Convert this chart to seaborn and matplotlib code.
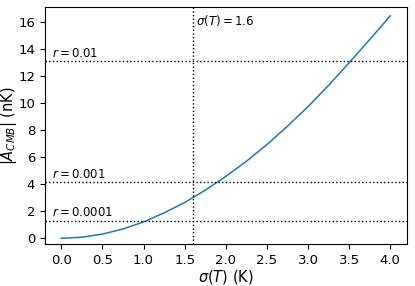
import numpy as np
import pandas as pd
import matplotlib
matplotlib.use("Agg")
import matplotlib.pyplot as plt
import seaborn as sns

# values
sigma_T = [0.0, 0.25, 0.5, 0.75, 1.0, 1.25, 1.5, 1.75, 2.0, 2.25, 2.5,
           2.75, 3.0, 3.25, 3.5, 3.75, 4.0]
A_cmb = [0.0, 0.08, 0.31, 0.69, 1.21, 1.88, 2.65, 3.56, 4.58, 5.7, 6.94,
         8.3, 9.75, 11.33, 13.0, 14.72, 16.48]
r_labels = ["$r = 0.01$", "$r = 0.001$", "$r = 0.0001$"]
r_levels = [13.16, 4.16, 1.316]
sigma_mark = 1.6

data = pd.DataFrame({"sigma": sigma_T, "A": A_cmb})

fig = plt.figure(figsize=(4.15, 2.86), dpi=100)
ax = fig.add_axes([0.108, 0.147, 0.872, 0.827])

sns.lineplot(data=data, x="sigma", y="A", ax=ax, color="#1f77b4", linewidth=1.1)

for lab, lev in zip(r_labels, r_levels):
    ax.axhline(lev, color="black", linestyle=":", linewidth=1.0)
    ax.text(-0.11, lev + 0.08, lab, fontsize=8.5, va="bottom", ha="left")

ax.axvline(sigma_mark, color="black", linestyle=":", linewidth=1.0)
ax.text(sigma_mark + 0.04, 15.55, r"$\sigma(T) = 1.6$", fontsize=8.5, va="bottom")

ax.set_xlim(-0.2, 4.2)
ax.set_ylim(-0.42, 17.1)
ax.set_xticks(np.arange(0, 4.01, 0.5))
ax.set_yticks(np.arange(0, 17, 2))
ax.tick_params(labelsize=9.5)
ax.set_xlabel(r"$\sigma(T)$ (K)", fontsize=10.5)
ax.set_ylabel(r"$|A_{CMB}|$ (nK)", fontsize=10.5)
ax.xaxis.set_label_coords(0.5, -0.1)
ax.yaxis.set_label_coords(-0.072, 0.5)

fig.savefig("out.png", dpi=100)
